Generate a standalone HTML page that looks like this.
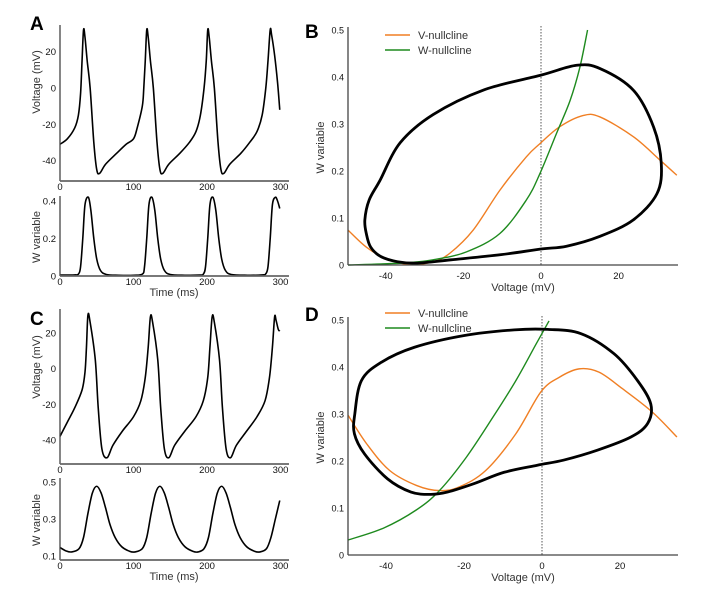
<!DOCTYPE html>
<html><head><meta charset="utf-8"><style>
html,body{margin:0;padding:0;background:#fff;}
svg{display:block;font-family:"Liberation Sans",sans-serif;}
.tk{font-size:9.5px;fill:#111;}
.tkp{font-size:9px;fill:#111;}
.ttl{font-size:11px;fill:#333;}
.pl{font-size:19px;font-weight:bold;fill:#000;}
</style></head><body>
<svg id="fig" width="703" height="597" viewBox="0 0 703 597">
<g id="root"></g>
</svg>
<script>
// ---- Panel A data ----
const aVt=[0,10,20,25,28,30,32,34,37,41,46,50,54,62,77,90,100,105,112,114,116,118,120,123,127,132,136,140,148,163,176,185,191,196,199,201,203,206,210,215,219,223,231,246,258,268,275,280,283,286,288,292,296,299];
const aVv=[-31,-28,-22,-15,-3,15,32,28,15,0,-30,-45,-47,-42,-36,-31,-28,-22,-10,0,15,32,28,15,0,-30,-45,-47,-42,-36,-30,-24,-15,0,15,32,28,15,0,-30,-45,-47,-42,-36,-30,-24,-15,0,15,32,29,18,3,-12];
const aWt=[0,12,20,25,28,31,34,38.6,42,46,50,55,63,80,100,112,115,118,121,125,129,133,137,142,150,170,190,195,198,201,204,208,212,216,220,225,233,255,275,280,283,286,289,293,296,299];
const aWv=[0.005,0.005,0.006,0.01,0.05,0.2,0.38,0.42,0.35,0.2,0.09,0.03,0.008,0.004,0.004,0.01,0.05,0.2,0.38,0.42,0.35,0.2,0.09,0.03,0.008,0.004,0.005,0.01,0.05,0.2,0.38,0.42,0.35,0.2,0.09,0.03,0.008,0.004,0.006,0.012,0.05,0.2,0.38,0.42,0.4,0.36];
// ---- Panel C data ----
const cVt=[0,10,20,30,34,36,38,41,48,52,57,64,72,85,100,110,116,120,123,126,133,137,142,148,156,170,185,195,201,204,207,210,217,221,226,232,240,254,268,279,285,289,292,294,297,299];
const cVv=[-38,-30,-22,-12,-2,12,30,26,5,-22,-45,-50,-43,-35,-27,-18,-5,12,29,26,5,-22,-45,-50,-43,-35,-27,-18,-5,12,29,26,5,-22,-45,-50,-43,-35,-27,-18,-5,12,29,27,22,21];
const cWt=[0,8,16,26,32,38,44,50,56,62,68,75,84,95,102,112,118,124,130,136,142,148,154,161,170,181,188,196,202,208,214,220,226,232,238,245,254,265,272,281,287,293,299];
const cWv=[0.146,0.128,0.122,0.14,0.2,0.33,0.44,0.477,0.44,0.36,0.27,0.2,0.15,0.125,0.122,0.14,0.2,0.33,0.44,0.477,0.44,0.36,0.27,0.2,0.15,0.125,0.122,0.14,0.2,0.33,0.44,0.477,0.44,0.36,0.27,0.2,0.15,0.125,0.122,0.14,0.2,0.3,0.4];
// ---- Panel B data ----
const bCycV=[-45.4,-44.3,-41.5,-36.3,-27.8,-14.9,0,9.2,15.2,23.8,29,31,29.9,23.8,15.2,6.6,0,-10.3,-23.2,-31.8,-37,-41.3,-43.9,-45];
const bCycW=[0.096,0.138,0.18,0.26,0.32,0.372,0.404,0.425,0.418,0.372,0.294,0.216,0.152,0.096,0.061,0.04,0.034,0.022,0.011,0.004,0.007,0.018,0.038,0.066];
const bVnV=[-49.7,-45,-39.8,-33.8,-27.8,-23.5,-17.5,-10.6,-3.8,-0.3,4.8,10.8,15.2,23.8,30.7,35];
const bVnW=[0.074,0.038,0.013,0.001,0.007,0.025,0.074,0.159,0.23,0.258,0.294,0.318,0.315,0.273,0.223,0.191];
const bWnV=[-49.7,-36,-27.8,-19.2,-10.6,-3.8,-0.3,4,7.5,10,12];
const bWnW=[0,0.004,0.011,0.028,0.067,0.138,0.194,0.28,0.35,0.42,0.5];
// ---- Panel D data ----
const dCycV=[-48,-46.3,-41.2,-32.7,-19.9,-7.1,1.5,10,18.5,24.5,27.9,27.1,22.8,14.2,5.6,-1.2,-9.7,-17.4,-24.2,-28.5,-33.6,-39.6,-45.5,-48.1];
const dCycW=[0.30,0.371,0.41,0.442,0.467,0.479,0.48,0.471,0.428,0.371,0.321,0.28,0.251,0.223,0.202,0.191,0.176,0.152,0.134,0.129,0.134,0.162,0.215,0.258];
const dVnV=[-49.7,-45,-39.1,-32.2,-26.3,-21.2,-14.4,-6.7,-0.3,4.4,9.5,14.6,20.6,28.3,34.6];
const dVnW=[0.297,0.237,0.18,0.148,0.137,0.145,0.18,0.258,0.347,0.378,0.396,0.389,0.354,0.304,0.251];
const dWnV=[-49.7,-40.7,-32.2,-26.3,-19.4,-12.6,-6.7,-1.5,1.8];
const dWnW=[0.032,0.057,0.096,0.137,0.208,0.293,0.371,0.449,0.498];
// ticks
const timeTicks=[0,100,200,300];
const aVTicks=[20,0,-20,-40];
const aWTicks=[0,0.2,0.4];
const cWTicks=[0.1,0.3,0.5];
const phTicksX=[-40,-20,0,20];
const phTicksY=[0,0.1,0.2,0.3,0.4,0.5];

const NS="http://www.w3.org/2000/svg";
const root=document.getElementById('root');
function mk(tag,attrs,parent){const e=document.createElementNS(NS,tag);for(const k in attrs)e.setAttribute(k,attrs[k]);(parent||root).appendChild(e);return e;}
function smooth(pts,closed){
  const n=pts.length;let d="M"+pts[0][0].toFixed(2)+","+pts[0][1].toFixed(2);
  const g=i=>closed?pts[(i+n)%n]:pts[Math.max(0,Math.min(n-1,i))];
  const last=closed?n:n-1;
  for(let i=0;i<last;i++){const p0=g(i-1),p1=g(i),p2=g(i+1),p3=g(i+2);
    const c1=[p1[0]+(p2[0]-p0[0])/6,p1[1]+(p2[1]-p0[1])/6],c2=[p2[0]-(p3[0]-p1[0])/6,p2[1]-(p3[1]-p1[1])/6];
    d+="C"+c1[0].toFixed(2)+","+c1[1].toFixed(2)+" "+c2[0].toFixed(2)+","+c2[1].toFixed(2)+" "+p2[0].toFixed(2)+","+p2[1].toFixed(2);}
  return d+(closed?"Z":"");
}
function txt(x,y,s,cls,anchor,name,rot){const t=mk('text',{x:x,y:y,class:cls,'text-anchor':anchor||'middle'});t.textContent=s;
  
  
  if(rot)t.setAttribute('transform','rotate(-90 '+x+' '+y+')');return t;}

function timePanel(id,xs,ys,T,V,yTicks,yTop,yBot,fmt,xLabY,timeTitle,yTitle,yTitleY){
  const g=mk('g',{});
  
  
  const pth=mk('path',{d:smooth(T.map((t,i)=>[xs(t),ys(V[i])]),false),fill:'none',stroke:'#000','stroke-width':1.6,'stroke-linejoin':'round'},g);
  
  
  const ya=mk('line',{x1:60,y1:yTop,x2:60,y2:yBot,stroke:'#444','stroke-width':1.3},g);
  
  
  const xa=mk('line',{x1:60,y1:yBot,x2:289,y2:yBot,stroke:'#666','stroke-width':1.8},g);
  
  
  yTicks.forEach(v=>txt(56,ys(v)+3.5,fmt(v),'tk','end',id+'-y-tick'));
  timeTicks.forEach(t=>txt(xs(t),xLabY,String(t),'tk','middle',id+'-x-tick'));
  if(timeTitle)txt(174,timeTitle,'Time (ms)','ttl','middle',id+'-x-title');
  txt(40,yTitleY,yTitle,'ttl','middle',id+'-y-title',true);
}
const xs=t=>60+t*0.735;
timePanel('panel-a-voltage',xs,v=>88-v*1.815,aVt,aVv,aVTicks,25,181,v=>String(v),190,null,'Voltage (mV)',82);
timePanel('panel-a-w',xs,w=>276-w*187.5,aWt,aWv,aWTicks,196,276,v=>v===0?'0':v.toFixed(1),285,296,'W variable',237);
timePanel('panel-c-voltage',xs,v=>368.6-v*1.783,cVt,cVv,aVTicks,309,464,v=>String(v),473,null,'Voltage (mV)',367);
timePanel('panel-c-w',xs,w=>574.5-w*185,cWt,cWv,cWTicks,478,560,v=>v.toFixed(1),569,580,'W variable',520);

function phasePanel(id,x0,kx,y0,ky,cV,cW,vnV,vnW,wnV,wnW,legY){
  const X=v=>x0+v*kx,Y=w=>y0-w*ky;
  const g=mk('g',{});
  
  
  const dl=mk('line',{x1:X(0),y1:Y(0.5)-4,x2:X(0),y2:Y(0),stroke:'#555','stroke-width':1,'stroke-dasharray':'1.5,1.5'},g);
  
  
  const vn=mk('path',{d:smooth(vnV.map((v,i)=>[X(v),Y(vnW[i])]),false),fill:'none',stroke:'#f07f24','stroke-width':1.4},g);
  
  
  const wn=mk('path',{d:smooth(wnV.map((v,i)=>[X(v),Y(wnW[i])]),false),fill:'none',stroke:'#1e8a1e','stroke-width':1.4},g);
  
  
  const cy=mk('path',{d:smooth(cV.map((v,i)=>[X(v),Y(cW[i])]),true),fill:'none',stroke:'#000','stroke-width':2.8,'stroke-linejoin':'round'},g);
  
  
  const ya=mk('line',{x1:348,y1:Y(0.5)-3,x2:348,y2:Y(0),stroke:'#444','stroke-width':1.3},g);
  
  
  const xa=mk('line',{x1:348,y1:Y(0),x2:678,y2:Y(0),stroke:'#444','stroke-width':1.3},g);
  
  
  phTicksY.forEach(w=>txt(344,Y(w)+3.5,w===0?'0':w.toFixed(1),'tkp','end',id+'-y-tick'));
  phTicksX.forEach(v=>txt(X(v),Y(0)+14,String(v),'tk','middle',id+'-x-tick'));
  txt(523,Y(0)+26,'Voltage (mV)','ttl','middle',id+'-x-title');
  txt(324,(Y(0)+Y(0.5))/2,'W variable','ttl','middle',id+'-y-title',true);
  const l1=mk('line',{x1:385,y1:legY,x2:410,y2:legY,stroke:'#f07f24','stroke-width':1.5},g);
  
  
  txt(418,legY+4,'V-nullcline','ttl','start',id+'-legend-v-label');
  const l2=mk('line',{x1:385,y1:legY+15,x2:410,y2:legY+15,stroke:'#1e8a1e','stroke-width':1.5},g);
  
  
  txt(418,legY+19,'W-nullcline','ttl','start',id+'-legend-w-label');
}
phasePanel('panel-b',541,3.88,265,470,bCycV,bCycW,bVnV,bVnW,bWnV,bWnW,35);
phasePanel('panel-d',542,3.9,555,470,dCycV,dCycW,dVnV,dVnW,dWnV,dWnW,313);

txt(30,30,'A','pl','start','panel-label-a');
txt(305,38,'B','pl','start','panel-label-b');
txt(30,325,'C','pl','start','panel-label-c');
txt(305,321,'D','pl','start','panel-label-d');
</script>
</body></html>
